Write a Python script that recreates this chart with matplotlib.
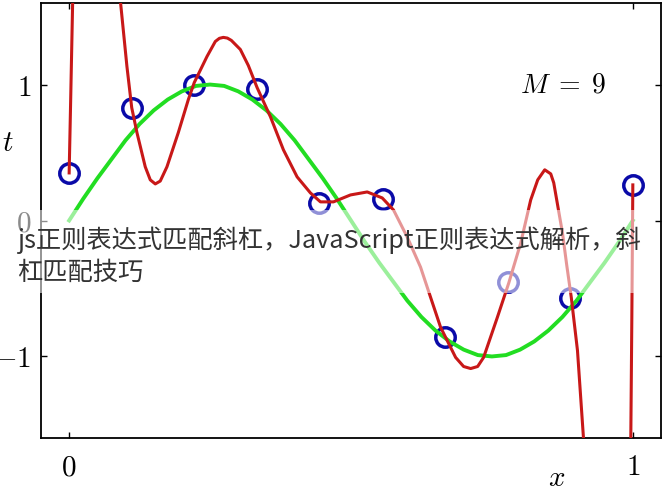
import numpy as np
import matplotlib.pyplot as plt
from matplotlib.patches import Rectangle

plt.rcParams['mathtext.fontset'] = 'cm'

# training points (M = 9 example)
x_pts = [0.0, 0.111, 0.222, 0.333, 0.444, 0.556, 0.667, 0.778, 0.889, 1.0]
t_pts = [0.35, 0.83, 1.00, 0.97, 0.13, 0.16, -0.86, -0.45, -0.57, 0.26]

# green curve
x_true = [i * 0.025 for i in range(41)]
t_true = [0.0, 0.16, 0.31, 0.45, 0.59, 0.71, 0.81, 0.89, 0.95, 0.99,
          1.0, 0.99, 0.95, 0.89, 0.81, 0.71, 0.59, 0.45, 0.31, 0.16,
          0.0, -0.16, -0.31, -0.45, -0.59, -0.71, -0.81, -0.89, -0.95, -0.99,
          -1.0, -0.99, -0.95, -0.89, -0.81, -0.71, -0.59, -0.45, -0.31, -0.16,
          0.0]

# red curve (three visible pieces)
xa = [0.0, 0.0027, 0.0062, 0.0071]
ya = [0.35, 0.889, 1.605, 1.775]

xb = [0.0897, 0.0906, 0.1025, 0.111, 0.1203, 0.135, 0.1439, 0.1528, 0.1616,
      0.1735, 0.1936, 0.2114, 0.222, 0.2446, 0.2593, 0.2665, 0.2735, 0.2806,
      0.2877, 0.3037, 0.3179, 0.3334, 0.357, 0.3801, 0.4044, 0.428, 0.4458,
      0.4689, 0.4991, 0.5288, 0.5554, 0.5755, 0.5998, 0.6234, 0.6412, 0.659,
      0.6679, 0.6856, 0.6998, 0.7123, 0.7247, 0.7353, 0.7597, 0.7798, 0.8011,
      0.8188, 0.8313, 0.8437, 0.8544, 0.8597, 0.8752, 0.8828, 0.8908, 0.9018,
      0.9124, 0.9147]
yb = [1.775, 1.627, 1.133, 0.83, 0.646, 0.395, 0.299, 0.269, 0.29,
      0.395, 0.646, 0.889, 1.015, 1.207, 1.317, 1.340, 1.347, 1.342,
      1.325, 1.258, 1.14, 0.978, 0.764, 0.52, 0.321, 0.203, 0.137,
      0.137, 0.188, 0.21, 0.166, 0.077, -0.122, -0.343, -0.565, -0.786,
      -0.86, -1.007, -1.074, -1.089, -1.074, -1.007, -0.712, -0.461, -0.166,
      0.151, 0.299, 0.373, 0.343, 0.277, -0.092, -0.33, -0.565, -0.956,
      -1.598, -1.768]

xc = [0.9956, 0.9964, 0.9982, 1.0]
yc = [-1.768, -1.598, -0.734, 0.262]

fig = plt.figure(figsize=(6.64, 4.9), dpi=100)
ax = fig.add_axes([0.0617, 0.1061, 0.9338, 0.8878])

ax.plot(x_pts, t_pts, 'o', mfc='none', mec='#0a0aa8', ms=14, mew=2.5, zorder=2)
ax.plot(x_true, t_true, color='#22dd22', lw=2.8, zorder=3, solid_joinstyle='round')
for xs, ys in [(xa, ya), (xb, yb), (xc, yc)]:
    ax.plot(xs, ys, color='#c81818', lw=2.2, zorder=4, solid_joinstyle='round')

ax.set_xlim(-0.05, 1.05)
ax.set_ylim(-1.6, 1.6)
ax.set_xticks([0, 1])
ax.set_xticklabels(['$0$', '$1$'])
ax.set_yticks([-1, 0, 1])
ax.set_yticklabels(['$-1$', '$0$', '$1$'])
ax.tick_params(direction='in', length=4, width=1, top=True, right=True,
               labelsize=21)
ax.tick_params(axis='x', pad=11)
ax.tick_params(axis='y', pad=7)
for s in ax.spines.values():
    s.set_linewidth(1.3)

ax.set_xlabel('$x$', fontsize=21)
ax.xaxis.set_label_coords(0.832, -0.06)
ax.set_ylabel('$t$', fontsize=21, rotation=0)
ax.yaxis.set_label_coords(-0.053, 0.645)
ax.text(0.80, 1.0, r'$M\;=\;9$', fontsize=20, va='center')

# watermark band
fig.patches.append(Rectangle((0, 0.402), 0.982, 0.169, transform=fig.transFigure,
                             facecolor='white', alpha=0.55, edgecolor='none', zorder=5))
fig.text(0.026, 0.494, 'js正则表达式匹配斜杠，JavaScript正则表达式解析，斜',
         family=['Noto Sans CJK SC', 'DejaVu Sans'], fontweight='light',
         fontsize=18.2, color='#333333', zorder=6)
fig.text(0.026, 0.4286, '杠匹配技巧',
         family=['Noto Sans CJK SC', 'DejaVu Sans'], fontweight='light',
         fontsize=18.2, color='#333333', zorder=6)

fig.savefig('out.png', dpi=100)
